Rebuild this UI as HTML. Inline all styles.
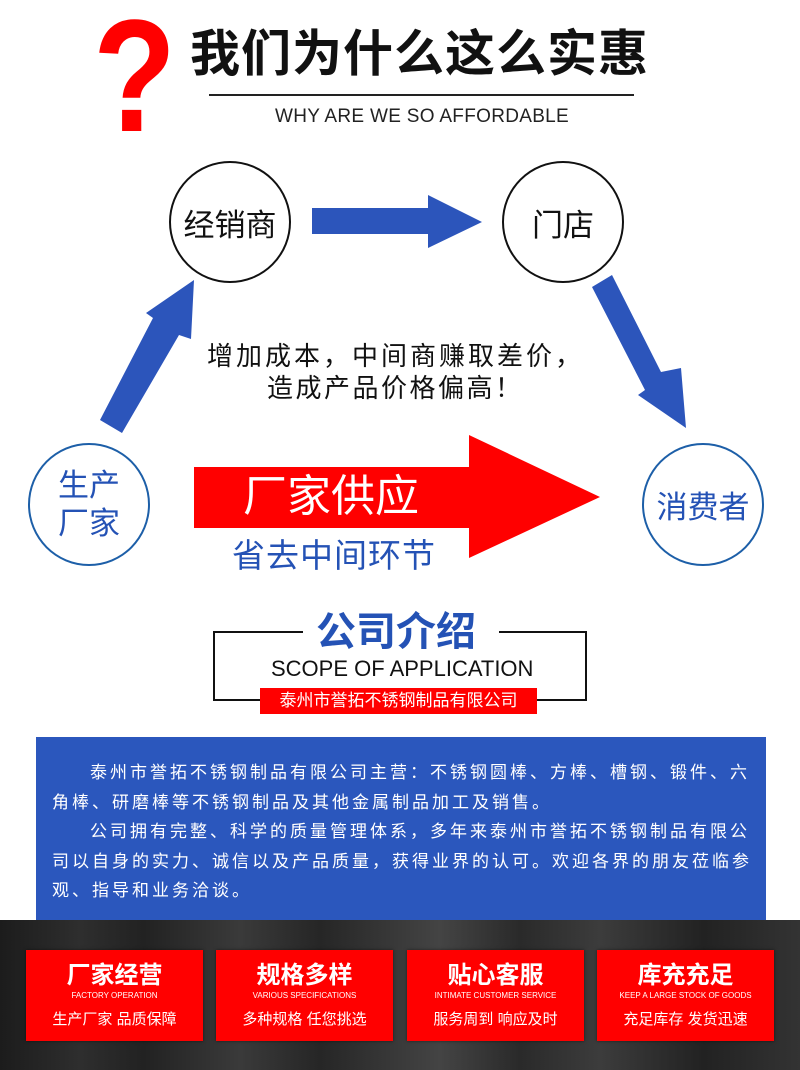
<!DOCTYPE html>
<html><head><meta charset="utf-8"><style>
*{margin:0;padding:0;box-sizing:border-box}
body{width:800px;height:1070px;background:#fff;position:relative;overflow:hidden;font-family:"Liberation Sans","Noto Sans CJK SC",sans-serif}
.a{position:absolute;white-space:nowrap}
.c{position:absolute;border-radius:50%;display:flex;align-items:center;justify-content:center;text-align:center}
.box{position:absolute;top:950px;width:177px;height:91px;background:#f00;color:#fff;text-align:center;box-shadow:0 0 3px rgba(0,0,0,.5)}
.box .t{position:absolute;left:0;right:0;top:11px;font-size:24px;font-weight:bold;line-height:30px}
.box .s{position:absolute;left:0;right:0;top:41px;font-size:8px;line-height:10px}
.box .b{position:absolute;left:0;right:0;top:60px;font-size:15px;line-height:20px}
.p div{white-space:nowrap}
</style></head><body>
<div class="a" style="left:93px;top:-4px;font-size:160px;font-weight:bold;color:#f00;line-height:160px;transform:scaleX(0.85);transform-origin:left">?</div>
<div class="a" style="left:190px;top:24px;font-size:50px;font-weight:bold;color:#111;line-height:60px;letter-spacing:1px">我们为什么这么实惠</div>
<div class="a" style="left:209px;top:94px;width:425px;height:2px;background:#222"></div>
<div class="a" style="left:275px;top:105px;font-size:19px;color:#222;line-height:24px;letter-spacing:0.3px">WHY ARE WE SO AFFORDABLE</div>

<div class="c" style="left:169px;top:161px;width:122px;height:122px;border:2px solid #111;font-size:31px;color:#111">经销商</div>
<div class="c" style="left:502px;top:161px;width:122px;height:122px;border:2px solid #111;font-size:31px;color:#111">门店</div>
<div class="c" style="left:28px;top:443px;width:122px;height:123px;border:2px solid #1d5fa8;font-size:31px;color:#2452b5;line-height:38px">生产<br>厂家</div>
<div class="c" style="left:642px;top:443px;width:122px;height:123px;border:2px solid #1d5fa8;font-size:31px;color:#2452b5">消费者</div>

<svg class="a" style="left:0;top:0" width="800" height="600">
<polygon points="312,208 428,208 428,195 482,222 428,248 428,234 312,234" fill="#2c55bb"/>
<polygon points="100,420 153,318 146,313 194,280 191,339 179,335 122,433" fill="#2c55bb"/>
<polygon points="592,287 612,275 661,372 681,368 686,428 638,395 645,390" fill="#2c55bb"/>
<polygon points="194,467 469,467 469,435 600,497 469,558 469,528 194,528" fill="#f00"/>
</svg>
<div class="a" style="left:207px;top:340px;font-size:26px;color:#111;line-height:32px;letter-spacing:3px">增加成本，中间商赚取差价，</div>
<div class="a" style="left:267px;top:372px;font-size:26px;color:#111;line-height:32px;letter-spacing:2.5px">造成产品价格偏高！</div>
<div class="a" style="left:243px;top:472px;font-size:44px;color:#fff;line-height:50px">厂家供应</div>
<div class="a" style="left:232px;top:536px;font-size:33px;color:#2452b5;line-height:40px;letter-spacing:1px">省去中间环节</div>

<div class="a" style="left:213px;top:631px;width:374px;height:70px;border:2px solid #111"></div>
<div class="a" style="left:303px;top:620px;width:196px;height:20px;background:#fff"></div>
<div class="a" style="left:316px;top:608px;font-size:40px;font-weight:bold;color:#2452b5;line-height:48px">公司介绍</div>
<div class="a" style="left:271px;top:655px;font-size:22px;color:#111;line-height:28px">SCOPE OF APPLICATION</div>
<div class="a" style="left:260px;top:688px;width:277px;height:26px;background:#f00;color:#fff;font-size:17px;line-height:26px;text-align:center">泰州市誉拓不锈钢制品有限公司</div>

<div class="a" style="left:36px;top:737px;width:730px;height:184px;background:#2b57bd"></div>
<div class="a p" style="left:52px;top:758px;color:#fff;font-size:17px;line-height:29.5px;letter-spacing:3px">
<div style="padding-left:38px">泰州市誉拓不锈钢制品有限公司主营：不锈钢圆棒、方棒、槽钢、锻件、六</div>
<div>角棒、研磨棒等不锈钢制品及其他金属制品加工及销售。</div>
<div style="padding-left:38px">公司拥有完整、科学的质量管理体系，多年来泰州市誉拓不锈钢制品有限公</div>
<div>司以自身的实力、诚信以及产品质量，获得业界的认可。欢迎各界的朋友莅临参</div>
<div>观、指导和业务洽谈。</div>
</div>

<div class="a" style="left:0;top:920px;width:800px;height:150px;background:linear-gradient(90deg,#1c1c1c 0%,#2e2e2e 10%,#222 18%,#3a3a3a 30%,#262626 40%,#444 55%,#2a2a2a 65%,#3c3c3c 75%,#222 88%,#333 100%)"></div>
<div class="box" style="left:26px"><div class="t">厂家经营</div><div class="s">FACTORY OPERATION</div><div class="b">生产厂家 品质保障</div></div>
<div class="box" style="left:216px"><div class="t">规格多样</div><div class="s">VARIOUS SPECIFICATIONS</div><div class="b">多种规格 任您挑选</div></div>
<div class="box" style="left:407px"><div class="t">贴心客服</div><div class="s">INTIMATE CUSTOMER SERVICE</div><div class="b">服务周到 响应及时</div></div>
<div class="box" style="left:597px"><div class="t">库充充足</div><div class="s">KEEP A LARGE STOCK OF GOODS</div><div class="b">充足库存 发货迅速</div></div>
</body></html>
